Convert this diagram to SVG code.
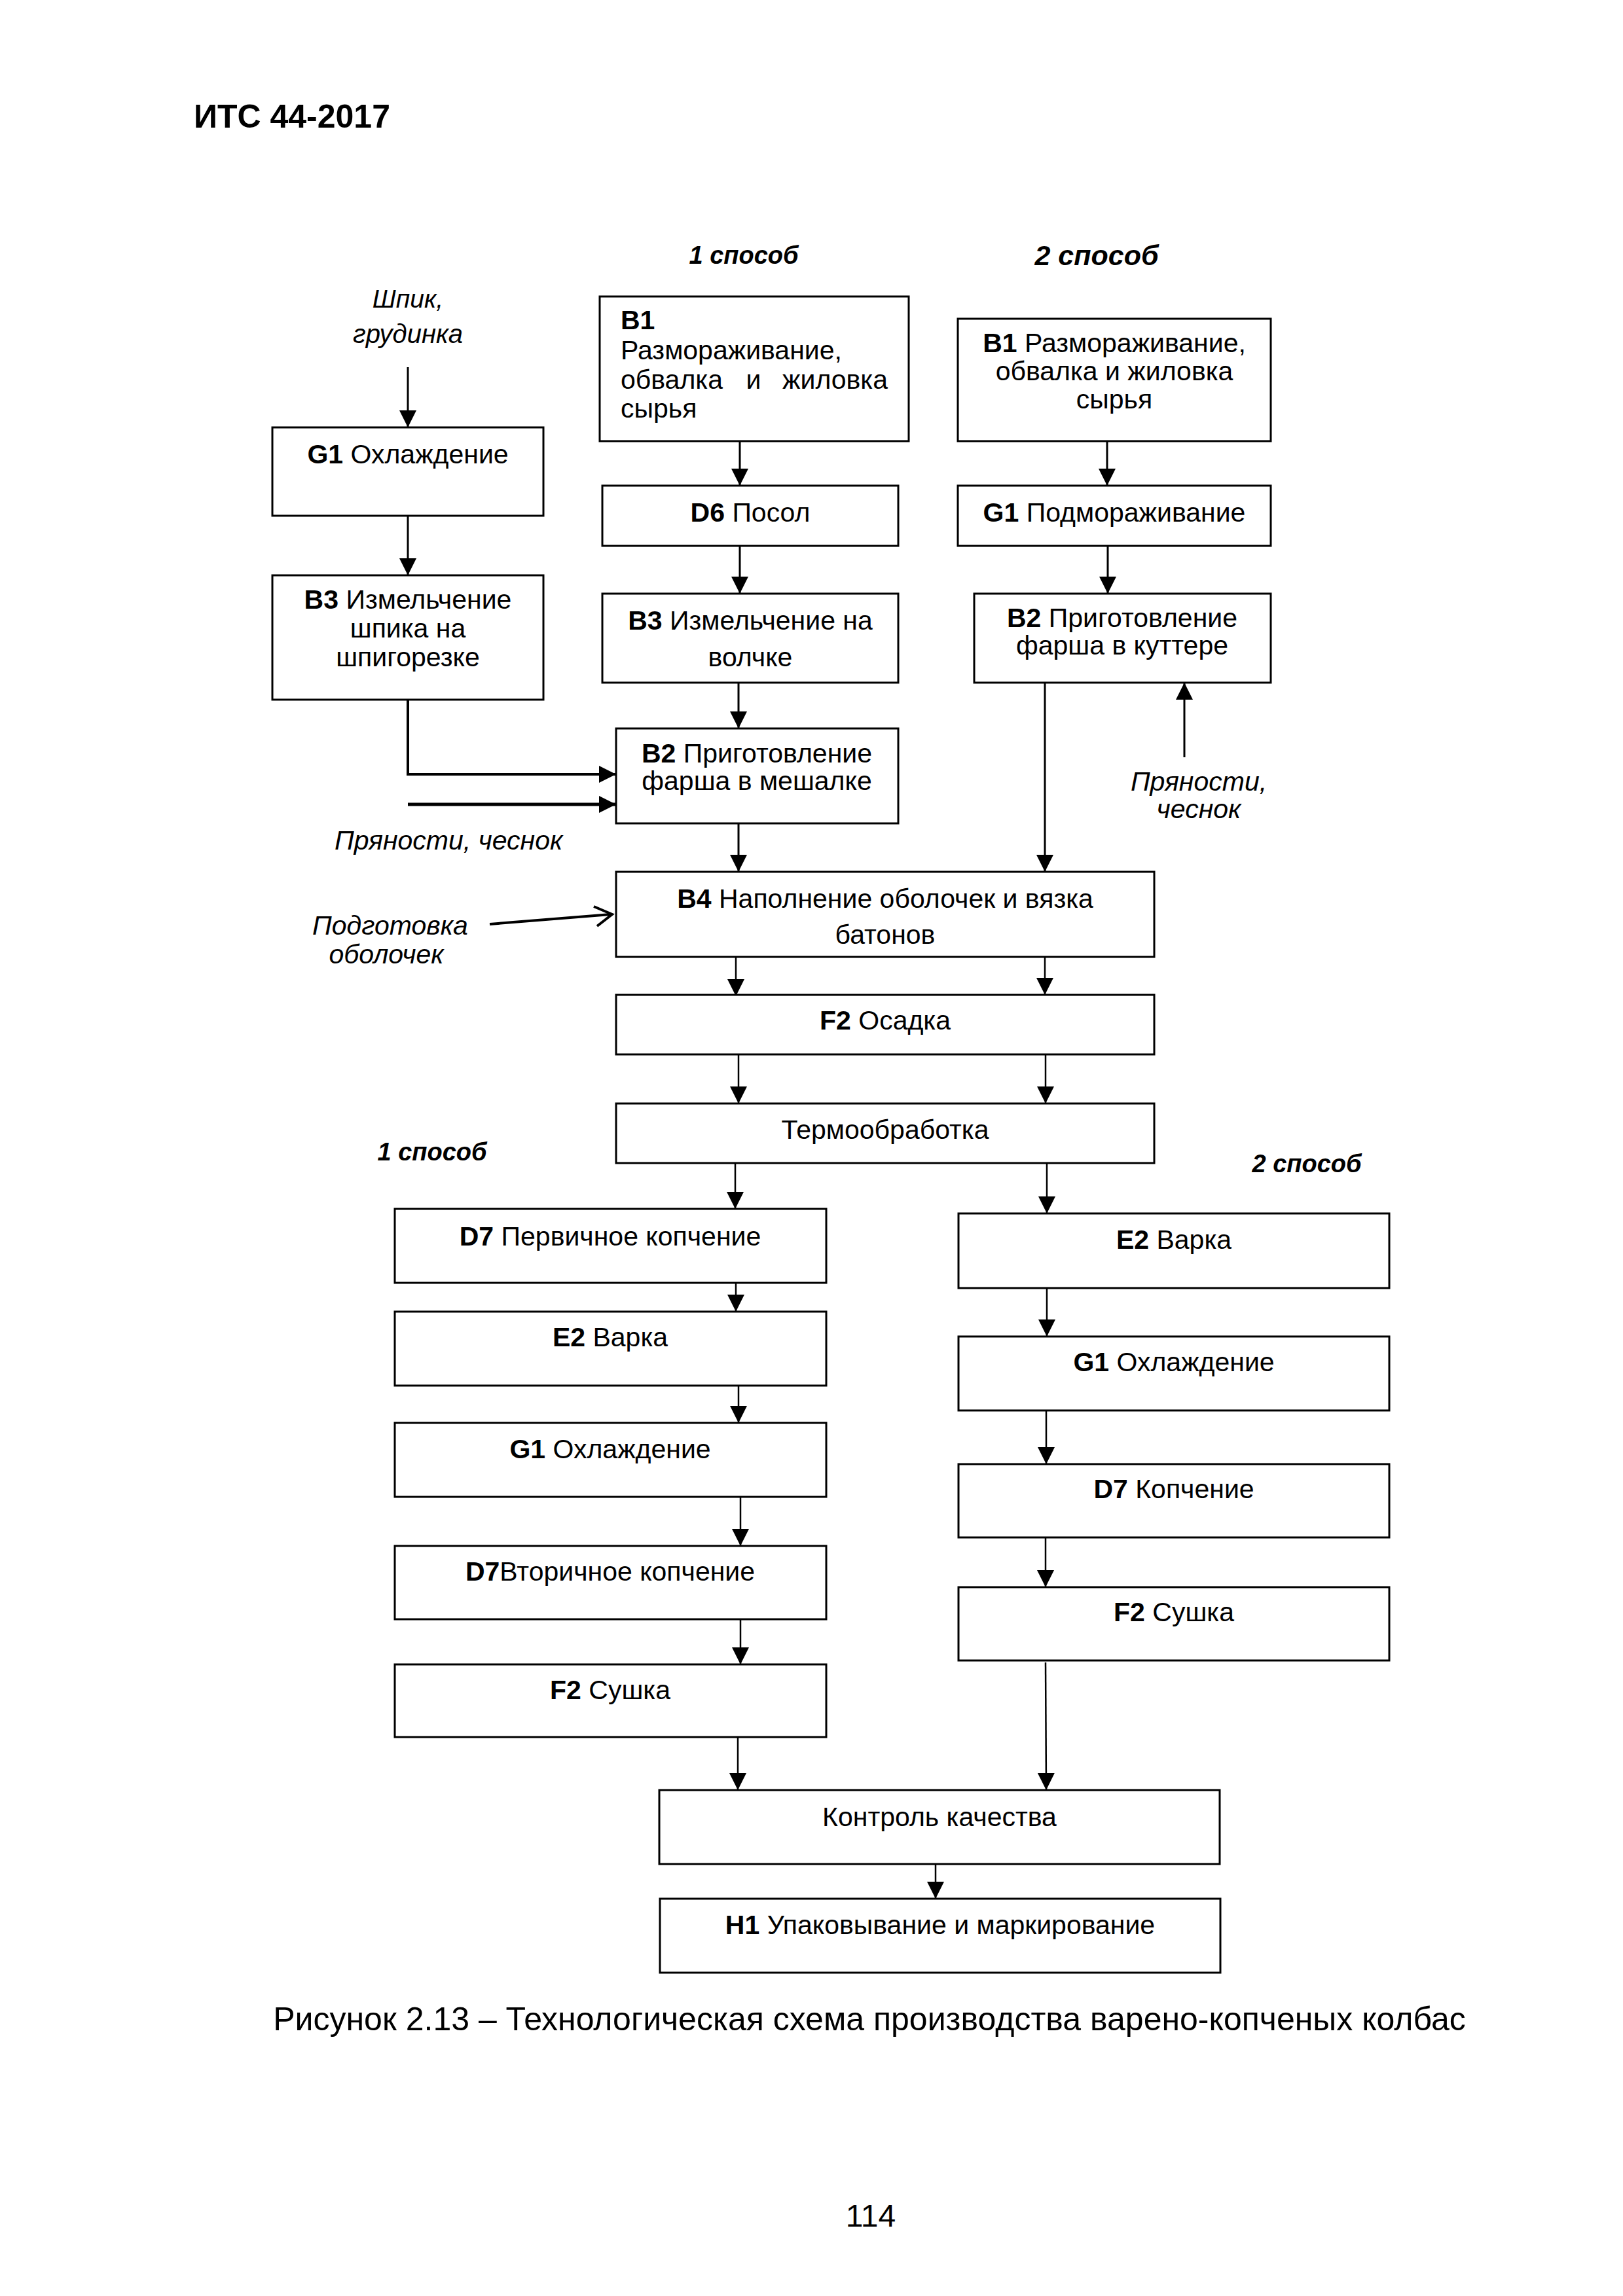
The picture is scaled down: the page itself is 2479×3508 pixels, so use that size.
<svg xmlns="http://www.w3.org/2000/svg" width="2479" height="3508" viewBox="0 0 2479 3508">
<style>
.box{fill:#fff;stroke:#000;stroke-width:3}
.t{font-family:"Liberation Sans",Arial,sans-serif;font-size:41px;fill:#000}
.c{text-anchor:middle}
.b{font-weight:bold}
.i{font-style:italic;font-size:41px}
.sp{font-family:"Liberation Sans",Arial,sans-serif;font-weight:bold;font-style:italic;font-size:38px;text-anchor:middle}
.ln{fill:none;stroke:#000;stroke-width:3}
.ln2{fill:none;stroke:#000;stroke-width:2.5}
</style>
<defs>
<marker id="ah" markerUnits="userSpaceOnUse" markerWidth="28" markerHeight="28" refX="26" refY="13" orient="auto">
<path d="M0,0 L26,13 L0,26 z" fill="#000"/>
</marker>
</defs>
<rect width="2479" height="3508" fill="#fff"/>

<text class="t b" x="296" y="195" style="font-size:50px">ИТС 44-2017</text>
<text class="sp" x="1136" y="403">1 способ</text>
<text class="sp" x="1675" y="405" style="font-size:43px">2 способ</text>
<text class="sp" x="660" y="1773">1 способ</text>
<text class="sp" x="1996" y="1791">2 способ</text>

<g id="connectors">
<line class="ln" x1="623" y1="561" x2="623" y2="653" marker-end="url(#ah)"/>
<line class="ln" x1="623" y1="788" x2="623" y2="879" marker-end="url(#ah)"/>
<path class="ln" d="M623,1069 V1183 H941" marker-end="url(#ah)" style="stroke-width:4"/>
<line class="ln" x1="623" y1="1229" x2="941" y2="1229" marker-end="url(#ah)" style="stroke-width:5"/>
<line class="ln" x1="1130" y1="674" x2="1130" y2="742" marker-end="url(#ah)"/>
<line class="ln" x1="1130" y1="834" x2="1130" y2="907" marker-end="url(#ah)"/>
<line class="ln" x1="1128" y1="1043" x2="1128" y2="1113" marker-end="url(#ah)"/>
<line class="ln" x1="1128" y1="1258" x2="1128" y2="1332" marker-end="url(#ah)"/>
<line class="ln" x1="1691" y1="674" x2="1691" y2="742" marker-end="url(#ah)"/>
<line class="ln" x1="1692" y1="834" x2="1692" y2="907" marker-end="url(#ah)"/>
<line class="ln" x1="1809" y1="1157" x2="1809" y2="1043" marker-end="url(#ah)"/>
<line class="ln" x1="1596" y1="1043" x2="1596" y2="1332" marker-end="url(#ah)"/>
<line x1="748" y1="1412" x2="933" y2="1397" stroke="#000" stroke-width="4"/>
<polyline points="907,1385 935,1397 912,1415" fill="none" stroke="#000" stroke-width="4"/>
<line class="ln2" x1="1124" y1="1462" x2="1124" y2="1522" marker-end="url(#ah)"/>
<line class="ln2" x1="1596" y1="1462" x2="1596" y2="1520" marker-end="url(#ah)"/>
<line class="ln2" x1="1128" y1="1611" x2="1128" y2="1686" marker-end="url(#ah)"/>
<line class="ln2" x1="1597" y1="1611" x2="1597" y2="1686" marker-end="url(#ah)"/>
<line class="ln2" x1="1123" y1="1777" x2="1123" y2="1847" marker-end="url(#ah)"/>
<line class="ln2" x1="1599" y1="1777" x2="1599" y2="1854" marker-end="url(#ah)"/>
<line class="ln2" x1="1124" y1="1960" x2="1124" y2="2004" marker-end="url(#ah)"/>
<line class="ln2" x1="1128" y1="2117" x2="1128" y2="2174" marker-end="url(#ah)"/>
<line class="ln2" x1="1131" y1="2287" x2="1131" y2="2362" marker-end="url(#ah)"/>
<line class="ln2" x1="1131" y1="2474" x2="1131" y2="2543" marker-end="url(#ah)"/>
<line class="ln2" x1="1127" y1="2654" x2="1127" y2="2735" marker-end="url(#ah)"/>
<line class="ln2" x1="1599" y1="1968" x2="1599" y2="2042" marker-end="url(#ah)"/>
<line class="ln2" x1="1598" y1="2155" x2="1598" y2="2237" marker-end="url(#ah)"/>
<line class="ln2" x1="1597" y1="2349" x2="1597" y2="2425" marker-end="url(#ah)"/>
<line class="ln2" x1="1597" y1="2540" x2="1598" y2="2735" marker-end="url(#ah)"/>
<line class="ln2" x1="1429" y1="2848" x2="1429" y2="2901" marker-end="url(#ah)"/>
</g>

<g id="in-shpik">
<text class="t i c" x="623" y="470" style="font-size:39px">Шпик,</text>
<text class="t i c" x="623" y="524" style="font-size:40px">грудинка</text>
</g>
<g id="g1-cool">
<rect class="box" x="416" y="653" width="414" height="135"/>
<text class="t c" x="623" y="708"><tspan class="b">G1</tspan> Охлаждение</text>
</g>
<g id="b3-shpik">
<rect class="box" x="416" y="879" width="414" height="190"/>
<text class="t c" x="623" y="930"><tspan class="b">B3</tspan> Измельчение</text>
<text class="t c" x="623" y="974">шпика на</text>
<text class="t c" x="623" y="1018">шпигорезке</text>
</g>
<g id="in-spices-left">
<text class="t i" x="511" y="1298">Пряности, чеснок</text>
</g>
<g id="b1-m1">
<rect class="box" x="916" y="453" width="472" height="221"/>
<text class="t b" x="948" y="503">B1</text>
<text class="t" x="948" y="549">Размораживание,</text>
<text class="t" x="948" y="594">обвалка</text>
<text class="t c" x="1151" y="594">и</text>
<text class="t" x="1356" y="594" text-anchor="end">жиловка</text>
<text class="t" x="948" y="638">сырья</text>
</g>
<g id="d6">
<rect class="box" x="920" y="742" width="452" height="92"/>
<text class="t c" x="1146" y="797"><tspan class="b">D6</tspan> Посол</text>
</g>
<g id="b3-volchok">
<rect class="box" x="920" y="907" width="452" height="136"/>
<text class="t c" x="1146" y="962"><tspan class="b">B3</tspan> Измельчение на</text>
<text class="t c" x="1146" y="1018">волчке</text>
</g>
<g id="b2-mixer">
<rect class="box" x="941" y="1113" width="431" height="145"/>
<text class="t c" x="1156" y="1165"><tspan class="b">B2</tspan> Приготовление</text>
<text class="t c" x="1156" y="1207">фарша в мешалке</text>
</g>
<g id="b1-m2">
<rect class="box" x="1463" y="487" width="478" height="187"/>
<text class="t c" x="1702" y="538"><tspan class="b">B1</tspan> Размораживание,</text>
<text class="t c" x="1702" y="581">обвалка и жиловка</text>
<text class="t c" x="1702" y="624">сырья</text>
</g>
<g id="g1-freeze">
<rect class="box" x="1463" y="742" width="478" height="92"/>
<text class="t c" x="1702" y="797"><tspan class="b">G1</tspan> Подмораживание</text>
</g>
<g id="b2-cutter">
<rect class="box" x="1488" y="907" width="453" height="136"/>
<text class="t c" x="1714" y="958"><tspan class="b">B2</tspan> Приготовление</text>
<text class="t c" x="1714" y="1000">фарша в куттере</text>
</g>
<g id="in-spices-right">
<text class="t i c" x="1831" y="1208">Пряности,</text>
<text class="t i c" x="1831" y="1250">чеснок</text>
</g>
<g id="in-casings">
<text class="t i c" x="596" y="1428">Подготовка</text>
<text class="t i c" x="590" y="1472">оболочек</text>
</g>
<g id="b4">
<rect class="box" x="941" y="1332" width="822" height="130"/>
<text class="t c" x="1352" y="1387"><tspan class="b">B4</tspan> Наполнение оболочек и вязка</text>
<text class="t c" x="1352" y="1442">батонов</text>
</g>
<g id="f2-settle">
<rect class="box" x="941" y="1520" width="822" height="91"/>
<text class="t c" x="1352" y="1573"><tspan class="b">F2</tspan> Осадка</text>
</g>
<g id="thermo">
<rect class="box" x="941" y="1686" width="822" height="91"/>
<text class="t c" x="1352" y="1740">Термообработка</text>
</g>
<g id="d7-primary">
<rect class="box" x="603" y="1847" width="659" height="113"/>
<text class="t c" x="932" y="1903"><tspan class="b">D7</tspan> Первичное копчение</text>
</g>
<g id="e2-left">
<rect class="box" x="603" y="2004" width="659" height="113"/>
<text class="t c" x="932" y="2057"><tspan class="b">E2</tspan> Варка</text>
</g>
<g id="g1-left">
<rect class="box" x="603" y="2174" width="659" height="113"/>
<text class="t c" x="932" y="2228"><tspan class="b">G1</tspan> Охлаждение</text>
</g>
<g id="d7-secondary">
<rect class="box" x="603" y="2362" width="659" height="112"/>
<text class="t c" x="932" y="2415"><tspan class="b">D7</tspan>Вторичное копчение</text>
</g>
<g id="f2-dry-left">
<rect class="box" x="603" y="2543" width="659" height="111"/>
<text class="t c" x="932" y="2596"><tspan class="b">F2</tspan> Сушка</text>
</g>
<g id="e2-right">
<rect class="box" x="1464" y="1854" width="658" height="114"/>
<text class="t c" x="1793" y="1908"><tspan class="b">E2</tspan> Варка</text>
</g>
<g id="g1-right">
<rect class="box" x="1464" y="2042" width="658" height="113"/>
<text class="t c" x="1793" y="2095"><tspan class="b">G1</tspan> Охлаждение</text>
</g>
<g id="d7-right">
<rect class="box" x="1464" y="2237" width="658" height="112"/>
<text class="t c" x="1793" y="2289"><tspan class="b">D7</tspan> Копчение</text>
</g>
<g id="f2-dry-right">
<rect class="box" x="1464" y="2425" width="658" height="112"/>
<text class="t c" x="1793" y="2477"><tspan class="b">F2</tspan> Сушка</text>
</g>
<g id="quality">
<rect class="box" x="1007" y="2735" width="856" height="113"/>
<text class="t c" x="1435" y="2790">Контроль качества</text>
</g>
<g id="h1">
<rect class="box" x="1008" y="2901" width="856" height="113"/>
<text class="t c" x="1436" y="2955"><tspan class="b">H1</tspan> Упаковывание и маркирование</text>
</g>

<text class="t c" x="1328" y="3102" style="font-size:50px">Рисунок 2.13 – Технологическая схема производства варено-копченых колбас</text>
<text class="t c" x="1330" y="3402" style="font-size:48px">114</text>
</svg>
